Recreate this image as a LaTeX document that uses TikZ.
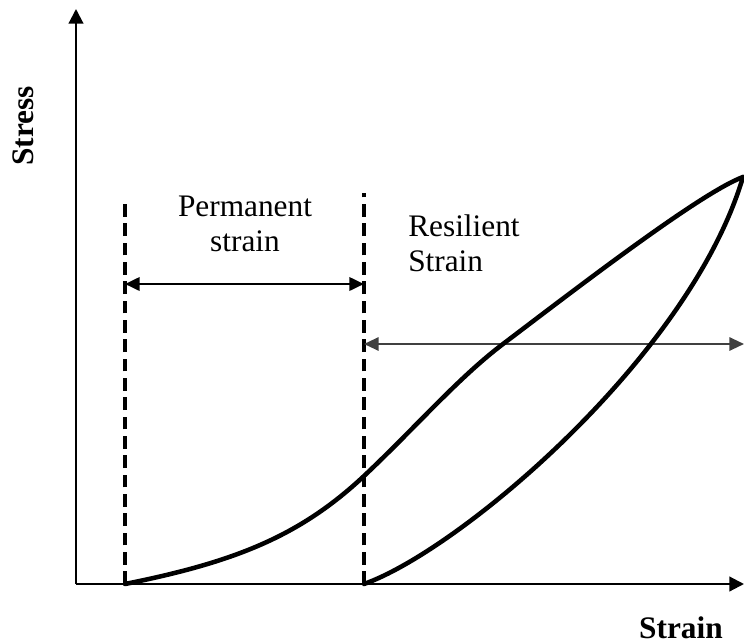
\documentclass[tikz,border=0pt]{standalone}
\usepackage{fontspec}
\setmainfont{Liberation Serif}
\usetikzlibrary{arrows.meta}
\tikzstyle{axisline}=[line width=1.6pt,-{Triangle[length=11pt,width=11pt]}]
\tikzstyle{dashline}=[line width=2.5pt,dash pattern=on 9.5pt off 5pt]
\tikzstyle{spanarrow}=[line width=2pt,{Triangle[length=11pt,width=10pt]}-{Triangle[length=11pt,width=10pt]}]
\tikzstyle{loadcurve}=[line width=3.4pt,line join=round,line cap=round]
\tikzstyle{txt}=[font=\fontsize{23.5}{26.3}\selectfont,inner sep=0pt]
\definecolor{spangray}{HTML}{404040}
\newcommand{\pxunit}{0.75pt}

\begin{document}
\begin{tikzpicture}[x=\pxunit,y=-\pxunit]
    \useasboundingbox (0,0) rectangle (744,643);
    % axes
    \coordinate (O) at (76,584);
    \coordinate (YT) at (76,9);
    \coordinate (XT) at (744,584);
    \draw[axisline] (O) -- (YT);
    \draw[axisline] (O) -- (XT);
    \node[txt,font=\fontsize{23.5}{26.3}\selectfont\bfseries,rotate=90,anchor=base] (Ystr) at (33,126) {Stress};
    \node[txt,font=\fontsize{23.5}{26.3}\selectfont\bfseries,anchor=base] (Xstr) at (681,638) {Strain};
    % dashed guides
    \coordinate (P0) at (125,584);
    \coordinate (P0T) at (125,200);
    \coordinate (R0) at (364,584);
    \coordinate (R0T) at (364,193);
	\draw[dashline] (P0) -- (P0T);
	\draw[dashline] (R0) -- (R0T);
    % strain spans
    \coordinate (PA) at (125,284);
    \coordinate (PB) at (364,284);
    \coordinate (RA) at (364,344);
    \coordinate (RB) at (744,344);
	\draw[spanarrow] (PA) -- (PB);
	\draw[spanarrow,spangray,line width=1.5pt] (RA) -- (RB);
    \node[txt,align=center] (Perm) at (245,224) {Permanent\\strain};
    \node[txt,align=left,anchor=north west] (Res) at (408,214) {Resilient\\Strain};
    % loading and unloading
    \coordinate (Mid) at (364,476);
    \coordinate (Cross) at (503,344);
    \coordinate (Top) at (743,177);
	\draw[loadcurve] (P0) .. controls (235,562) and (300,536) .. (Mid)
	    .. controls (415,428) and (458,378) .. (Cross)
	    .. controls (573,291) and (700,193) .. (Top);
	\draw[loadcurve] (R0) .. controls (460,550) and (690,356) .. (Top);
\end{tikzpicture}
\end{document}
